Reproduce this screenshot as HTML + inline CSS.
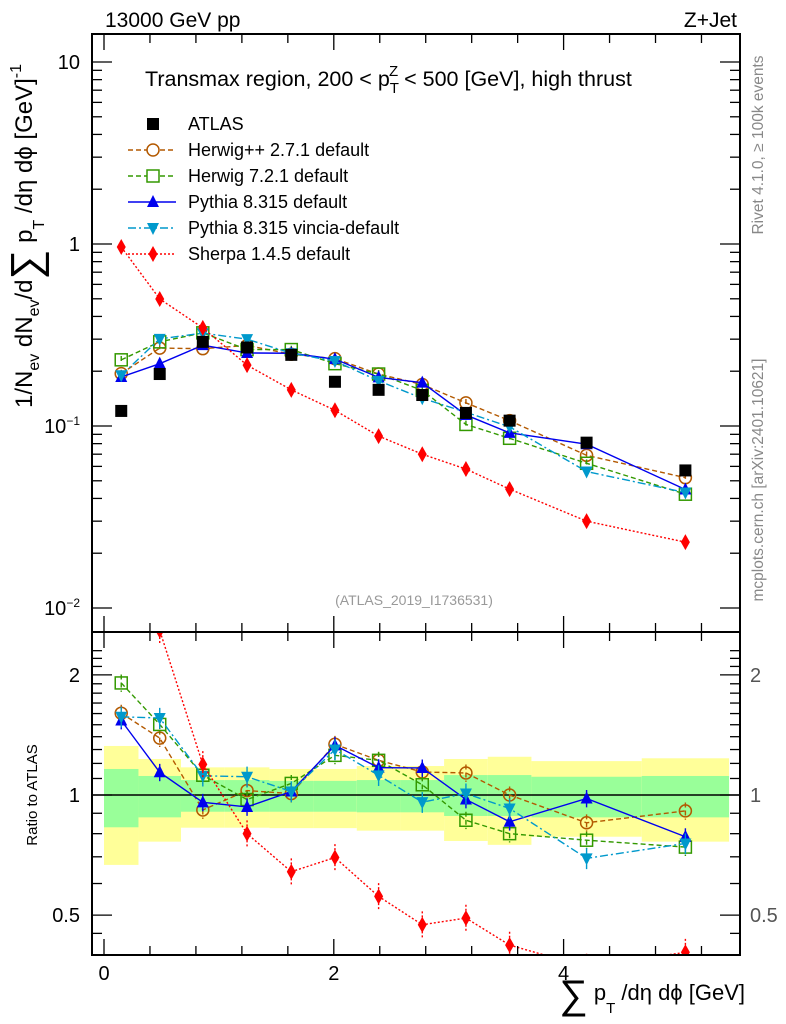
<!DOCTYPE html>
<html><head><meta charset="utf-8"><style>
body{margin:0;background:#fff;}
svg{display:block;font-family:"Liberation Sans",sans-serif;}
</style></head><body>
<svg id="c" width="786" height="1024" viewBox="0 0 786 1024"></svg>
<script>
const binCenters=[0.15,0.485,0.86,1.245,1.63,2.01,2.39,2.77,3.15,3.53,4.2,5.06];
const binEdges=[0,0.3,0.67,1.05,1.44,1.82,2.2,2.58,2.96,3.34,3.72,4.68,5.44];
const atlas=[0.121,0.193,0.29,0.27,0.246,0.175,0.158,0.148,0.118,0.107,0.081,0.057];
const herwigpp=[0.194,0.268,0.266,0.277,0.248,0.2345,0.193,0.169,0.134,0.107,0.069,0.052];
const herwig7=[0.231,0.29,0.325,0.263,0.263,0.22,0.193,0.157,0.102,0.0856,0.0624,0.0422];
const pythia=[0.186,0.22,0.278,0.252,0.251,0.233,0.185,0.173,0.115,0.0917,0.0794,0.0448];
const vincia=[0.19,0.301,0.324,0.30,0.251,0.2275,0.177,0.142,0.119,0.099,0.0562,0.0431];
const sherpa=[0.963,0.499,0.346,0.216,0.158,0.122,0.088,0.070,0.058,0.045,0.030,0.023];
const yellowUp=[1.327,1.231,1.173,1.173,1.162,1.162,1.182,1.182,1.231,1.247,1.216,1.236];
const yellowDn=[0.668,0.764,0.828,0.828,0.826,0.826,0.814,0.814,0.767,0.75,0.786,0.764];
const greenUp=[1.162,1.116,1.09,1.09,1.085,1.085,1.09,1.09,1.122,1.122,1.111,1.116];
const greenDn=[0.83,0.879,0.908,0.908,0.908,0.908,0.905,0.905,0.886,0.886,0.879,0.879];
const xTicks=[0,2,4];
const mainTicks=[10,1,0.1,0.01];
const mainTickLabels=["10","1","10<tspan dy='-8' font-size='12'>−1</tspan>","10<tspan dy='-8' font-size='12'>−2</tspan>"];
const ratioTicks=[2,1,0.5];
const ratioTickLabels=["2","1","0.5"];

const L=92,R=740,T=34,MB=632,RB=955;
const X=v=>104+(v)*114.9;
const Y=v=>244-182*Math.log10(v);
const RY=v=>795-399*Math.log10(v);
const svg=document.getElementById('c');
const NS='http://www.w3.org/2000/svg';
function mk(tag,attrs,parent){const e=document.createElementNS(NS,tag);for(const k in attrs)e.setAttribute(k,attrs[k]);(parent||svg).appendChild(e);return e;}

const defs=mk('defs',{});
const cp1=mk('clipPath',{id:'cm'},defs);mk('rect',{x:L,y:T,width:R-L,height:MB-T},cp1);
const cp2=mk('clipPath',{id:'cr'},defs);mk('rect',{x:L,y:MB,width:R-L,height:RB-MB},cp2);

const bandG=mk('g',{'clip-path':'url(#cr)'});


for(let i=0;i<binCenters.length;i++){
  const x0=X(binEdges[i]),x1=X(binEdges[i+1]);
  const y=mk('rect',{x:x0,y:RY(yellowUp[i]),width:x1-x0,height:RY(yellowDn[i])-RY(yellowUp[i]),fill:'#ffff99'},bandG);
  
  
  const g=mk('rect',{x:x0,y:RY(greenUp[i]),width:x1-x0,height:RY(greenDn[i])-RY(greenUp[i]),fill:'#99ff99'},bandG);
  
  
}
mk('line',{x1:L,x2:R,y1:RY(1),y2:RY(1),stroke:'#000','stroke-width':1.5});

function marker(g,type,x,y,col){
  if(type==='sq')mk('rect',{x:x-6,y:y-6,width:12,height:12,fill:'#000'},g);
  else if(type==='circ')mk('circle',{cx:x,cy:y,r:6,fill:'none',stroke:col,'stroke-width':1.5},g);
  else if(type==='osq')mk('rect',{x:x-6,y:y-6,width:12,height:12,fill:'none',stroke:col,'stroke-width':1.5},g);
  else if(type==='up')mk('polygon',{points:`${x},${y-7} ${x-6},${y+5} ${x+6},${y+5}`,fill:col},g);
  else if(type==='dn')mk('polygon',{points:`${x},${y+7} ${x-6},${y-5} ${x+6},${y-5}`,fill:col},g);
  else if(type==='dia')mk('polygon',{points:`${x},${y-8} ${x+4.5},${y} ${x},${y+8} ${x-4.5},${y}`,fill:col},g);
}
const series=[
 {name:'herwigpp',d:herwigpp,col:'#b35900',dash:'5,3',m:'circ',err:0.05},
 {name:'herwig7',d:herwig7,col:'#339900',dash:'5,3',m:'osq',err:0.05},
 {name:'pythia',d:pythia,col:'#0000ee',dash:'',m:'up',err:0.05},
 {name:'vincia',d:vincia,col:'#0099cc',dash:'8,3,2,3',m:'dn',err:0.06},
 {name:'sherpa',d:sherpa,col:'#ff0000',dash:'2,2',m:'dia',err:0.08},
];
function drawSeries(s,ratio){
  const g=mk('g',{'clip-path':ratio?'url(#cr)':'url(#cm)'});
  
  
  const vals=s.d.map((v,i)=>ratio?v/atlas[i]:v);
  const YY=ratio?RY:Y;
  const pts=vals.map((v,i)=>`${X(binCenters[i])},${YY(v)}`).join(' ');
  mk('polyline',{points:pts,fill:'none',stroke:s.col,'stroke-width':1.4,'stroke-dasharray':s.dash},g);
  vals.forEach((v,i)=>{
    const x=X(binCenters[i]);
    mk('line',{x1:x,x2:x,y1:YY(v*(1+s.err)),y2:YY(v*(1-s.err)),stroke:s.col,'stroke-width':1.4,'stroke-dasharray':s.dash},g);
    marker(g,s.m,x,YY(v),s.col);
  });
}
series.forEach(s=>{drawSeries(s,false);drawSeries(s,true);});
const ag=mk('g',{'clip-path':'url(#cm)'});


atlas.forEach((v,i)=>marker(ag,'sq',X(binCenters[i]),Y(v),'#000'));

mk('rect',{x:L,y:T,width:R-L,height:MB-T,fill:'none',stroke:'#000','stroke-width':2});
mk('rect',{x:L,y:MB,width:R-L,height:RB-MB,fill:'none',stroke:'#000','stroke-width':2});

for(let v=0;v<=5.5;v+=0.4){
  const x=X(v);const big=Math.abs(v/2-Math.round(v/2))<0.01;
  const h=big?16:9;
  [[T,1],[MB,-1],[MB,1],[RB,-1]].forEach(([y,d])=>mk('line',{x1:x,x2:x,y1:y,y2:y+d*h,stroke:'#000','stroke-width':1.3}));
}
xTicks.forEach(v=>{const t=mk('text',{x:X(v),y:980,'font-size':20,'text-anchor':'middle'});t.textContent=v;});
for(let e=-2;e<=1;e++){
  for(let k=1;k<=9;k++){
    const v=k*Math.pow(10,e);if(v>13||v<0.0085)continue;
    const y=Y(v);const h=k===1?20:10;
    mk('line',{x1:L,x2:L+h,y1:y,y2:y,stroke:'#000','stroke-width':1.3});
    mk('line',{x1:R,x2:R-h,y1:y,y2:y,stroke:'#000','stroke-width':1.3});
  }
}
mainTicks.forEach((v,i)=>{const t=mk('text',{x:80,y:Y(v)+7,'font-size':20,'text-anchor':'end'});t.innerHTML=mainTickLabels[i];});
[0.45,0.5,0.6,0.7,0.8,0.9,1,1.1,1.2,1.3,1.4,1.5,1.6,1.7,1.8,1.9,2,2.1,2.2,2.3].forEach(v=>{
  const y=RY(v);if(y<MB||y>RB)return;const big=[0.5,1,2].includes(v);const h=big?20:10;
  mk('line',{x1:L,x2:L+h,y1:y,y2:y,stroke:'#000','stroke-width':1.3});
  mk('line',{x1:R,x2:R-h,y1:y,y2:y,stroke:'#000','stroke-width':1.3});
});
ratioTicks.forEach((v,i)=>{
  let t=mk('text',{x:80,y:RY(v)+7,'font-size':20,'text-anchor':'end'});t.textContent=ratioTickLabels[i];
  t=mk('text',{x:750,y:RY(v)+7,'font-size':20,'fill':'#555'});t.textContent=ratioTickLabels[i];
});
</script>
<svg width="786" height="1024" style="position:absolute;left:0;top:0" font-family="Liberation Sans, sans-serif">
<text x="105" y="27" font-size="21">13000 GeV pp</text>
<text x="737" y="27" font-size="21" text-anchor="end">Z+Jet</text>
<text x="145" y="86" font-size="21.5">Transmax region, 200 &lt; p<tspan font-size="15" dy="7">T</tspan><tspan font-size="15" dx="-10" dy="-17">Z</tspan><tspan dy="10"> &lt; 500 [GeV], high thrust</tspan></text>
<g font-size="18">
 <g><rect x="147" y="118" width="12" height="12"/><text x="188" y="130">ATLAS</text></g>
 <g><line x1="128" x2="176" y1="150" y2="150" stroke="#b35900" stroke-width="1.4" stroke-dasharray="5,3"/><circle cx="153" cy="150" r="6" fill="#fff" stroke="#b35900" stroke-width="1.5"/><text x="188" y="156">Herwig++ 2.7.1 default</text></g>
 <g><line x1="128" x2="176" y1="176" y2="176" stroke="#339900" stroke-width="1.4" stroke-dasharray="5,3"/><rect x="147" y="170" width="12" height="12" fill="#fff" stroke="#339900" stroke-width="1.5"/><text x="188" y="182">Herwig 7.2.1 default</text></g>
 <g><line x1="128" x2="176" y1="202" y2="202" stroke="#0000ee" stroke-width="1.4"/><polygon points="153,195 147,207 159,207" fill="#0000ee"/><text x="188" y="208">Pythia 8.315 default</text></g>
 <g><line x1="128" x2="176" y1="228" y2="228" stroke="#0099cc" stroke-width="1.4" stroke-dasharray="8,3,2,3"/><polygon points="153,235 147,223 159,223" fill="#0099cc"/><text x="188" y="234">Pythia 8.315 vincia-default</text></g>
 <g><line x1="128" x2="176" y1="254" y2="254" stroke="#ff0000" stroke-width="1.4" stroke-dasharray="2,2"/><polygon points="153,246 157.5,254 153,262 148.5,254" fill="#ff0000"/><text x="188" y="260">Sherpa 1.4.5 default</text></g>
</g>
<text x="414" y="605" font-size="14" fill="#999" text-anchor="middle">(ATLAS_2019_I1736531)</text>
<text transform="translate(763,145) rotate(-90)" font-size="15.5" fill="#888" text-anchor="middle">Rivet 4.1.0, ≥ 100k events</text>
<text transform="translate(763,480) rotate(-90)" font-size="15.5" fill="#888" text-anchor="middle">mcplots.cern.ch [arXiv:2401.10621]</text>
<text transform="translate(32,236) rotate(-90)" font-size="24" text-anchor="middle">1/N<tspan font-size="16" dy="7">ev</tspan><tspan dy="-7"> dN</tspan><tspan font-size="16" dy="7">ev</tspan><tspan dy="-7">/d</tspan><tspan font-size="42" dy="8">∑</tspan><tspan dy="-8"> p</tspan><tspan font-size="16" dy="12">T</tspan><tspan dy="-12"> /dη dϕ  [GeV]</tspan><tspan font-size="16" dy="-11">-1</tspan></text>
<text transform="translate(37,795) rotate(-90)" font-size="15" text-anchor="middle">Ratio to ATLAS</text>
<text x="745" y="1000" font-size="22" text-anchor="end"><tspan font-size="40" dy="8">∑</tspan><tspan dy="-8"> p</tspan><tspan font-size="15" dy="13">T</tspan><tspan dy="-13"> /dη dϕ [GeV]</tspan></text>
</svg>
</body></html>
